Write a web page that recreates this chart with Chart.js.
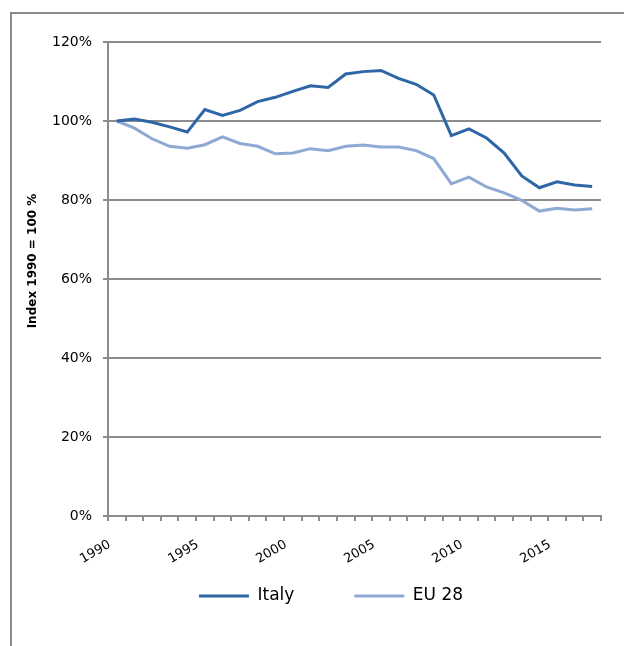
<!DOCTYPE html>
<html>
<head>
<meta charset="utf-8">
<script src="https://cdn.jsdelivr.net/npm/chart.js@4.4.1/dist/chart.umd.min.js"></script>
<style>
  html, body { margin: 0; padding: 0; background: #fff; }
  #wrap { position: relative; width: 624px; height: 646px; overflow: hidden; }
  #frame { position: absolute; left: 10px; top: 12px; width: 700px; height: 700px;
           border-left: 2px solid #8c8c8c; border-top: 2px solid #8c8c8c; }
  #c { position: absolute; left: 0; top: 0; }
</style>
</head>
<body>
<div id="wrap">
  <div id="frame"></div>
  <canvas id="c" width="624" height="646"></canvas>
</div>
<script>
const years = ['1990','1991','1992','1993','1994','1995','1996','1997','1998','1999',
               '2000','2001','2002','2003','2004','2005','2006','2007','2008','2009',
               '2010','2011','2012','2013','2014','2015','2016','2017'];
const italy = [100, 100.5, 99.7, 98.5, 97.2, 102.9, 101.4, 102.7, 104.9, 106.0,
               107.5, 108.9, 108.5, 111.9, 112.5, 112.8, 110.8, 109.3, 106.6, 96.3,
               98.0, 95.7, 91.9, 86.1, 83.1, 84.6, 83.8, 83.4];
const eu28 = [100, 98.2, 95.5, 93.6, 93.1, 94.0, 96.0, 94.3, 93.6, 91.7,
              91.9, 93.0, 92.5, 93.6, 93.9, 93.4, 93.4, 92.5, 90.5, 84.1,
              85.8, 83.3, 81.8, 79.9, 77.2, 77.9, 77.5, 77.8];
const yTicks = [0, 20, 40, 60, 80, 100, 120];
const seriesNames = ['Italy', 'EU 28'];
const colors = ['#2e66a6', '#8fa9d5'];
const yTitle = 'Index 1990 = 100 %';

const gridColor = '#8c8c8c';

// widen the label clip areas of the axes after layout (legend sits under the x labels)
const layoutFix = {
  id: 'layoutFix',
  afterLayout(chart) {
    const x = chart.scales.x, y = chart.scales.y;
    x.bottom = chart.height;
    y.left = 0;
    y.bottom = 480; // recentres the axis title like the original
  }
};

new Chart(document.getElementById('c'), {
  type: 'line',
  data: {
    labels: years,
    datasets: [
      { label: seriesNames[0], data: italy, borderColor: colors[0], backgroundColor: colors[0],
        borderWidth: 3, pointRadius: 0, tension: 0, fill: false },
      { label: seriesNames[1], data: eu28, borderColor: colors[1], backgroundColor: colors[1],
        borderWidth: 3, pointRadius: 0, tension: 0, fill: false }
    ]
  },
  plugins: [layoutFix],
  options: {
    responsive: false,
    animation: false,
    layout: { padding: { left: 61, right: 23, top: 42, bottom: 31.5 } },
    plugins: {
      tooltip: { enabled: false },
      legend: {
        position: 'bottom',
        labels: {
          boxWidth: 50,
          boxHeight: 3,
          padding: 60,
          color: '#000',
          font: { family: 'DejaVu Sans', size: 17 },
          generateLabels: (chart) => Chart.defaults.plugins.legend.labels.generateLabels(chart)
            .map(l => Object.assign(l, { lineWidth: 0 }))
        }
      }
    },
    scales: {
      x: {
        type: 'category',
        offset: true,
        grid: { offset: true, drawOnChartArea: true, drawTicks: true, tickLength: 5,
                color: (ctx) => (ctx.type === 'tick' && ctx.index === 0 ? gridColor : 'rgba(0,0,0,0)'),
                tickColor: gridColor, lineWidth: 2 },
        border: { color: gridColor, width: 2 },
        ticks: {
          autoSkip: false, minRotation: 30, maxRotation: 30, padding: 16, labelOffset: -7,
          color: '#000', font: { family: 'DejaVu Sans', size: 13 },
          callback: (v, i) => (i % 5 === 0 ? years[i] : '')
        },
        afterFit: (s) => { s.height = 11.5; }
      },
      y: {
        min: 0, max: 120,
        afterBuildTicks: (s) => { s.ticks = yTicks.map(v => ({ value: v })); },
        grid: { color: gridColor, lineWidth: 2, drawTicks: true, tickLength: 5 },
        border: { display: false },
        ticks: { padding: 11, color: '#000', font: { family: 'DejaVu Sans', size: 14 },
                 callback: (v) => v + '%' },
        title: { display: true, text: yTitle, color: '#000',
                 font: { family: 'DejaVu Sans', size: 12, weight: 'bold' },
                 padding: { top: 26, bottom: 0 } },
        afterFit: (s) => { s.width = 47; }
      }
    }
  }
});
</script>
</body>
</html>
